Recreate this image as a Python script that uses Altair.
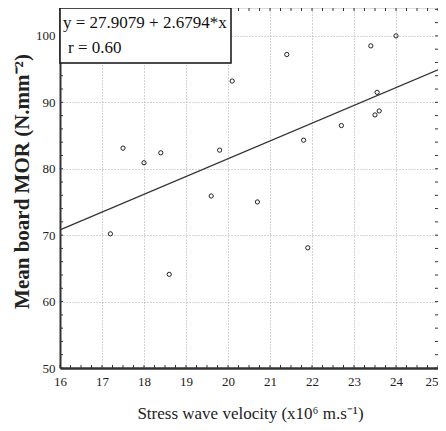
import altair as alt
import pandas as pd
import numpy as np

# Data
velocity = [17.2, 17.5, 18.0, 18.4, 18.6, 19.6, 19.8, 20.1, 20.7, 21.4,
            21.8, 21.9, 22.7, 23.4, 23.5, 23.55, 23.6, 24.0]
mor = [70.2, 83.1, 80.9, 82.4, 64.1, 75.9, 82.8, 93.2, 75.0, 97.2,
       84.3, 68.1, 86.5, 98.5, 88.1, 91.5, 88.7, 100.0]

fit_x = [16, 25]
fit_y = [70.8, 94.9]  # line y = 27.9079 + 2.6794*x as drawn

x_ticks = [16, 17, 18, 19, 20, 21, 22, 23, 24, 25]
y_ticks = [50, 60, 70, 80, 90, 100]
x_minor = list(np.arange(16, 25.001, 0.25))
y_minor = list(np.arange(50, 104.01, 2))

eq_line1 = "y = 27.9079 + 2.6794*x"
eq_line2 = "r = 0.60"
x_title = "Stress wave velocity (x10\u2076 m.s\u207b\u00b9)"
y_title = "Mean board MOR (N.mm\u207b\u00b2)"

W, H = 378, 360
FONT = "Liberation Serif"

pts = pd.DataFrame({"velocity": velocity, "mor": mor})
fit = pd.DataFrame({"velocity": fit_x, "mor": fit_y})
xm = pd.DataFrame({"velocity": x_minor})
ym = pd.DataFrame({"mor": y_minor})
one = pd.DataFrame({"a": [0]})

xscale = alt.Scale(domain=[16, 25], nice=False, zero=False)
yscale = alt.Scale(domain=[50, 104.2], nice=False, zero=False)

xaxis = alt.Axis(values=x_ticks, title=x_title, grid=True, ticks=False,
                 labelPadding=7, labelFontSize=13, labelFont=FONT, labelColor="#222",
                 labelAlign=alt.expr("datum.value == 25 ? 'right' : 'center'"),
                 titleFont=FONT, titleFontSize=17, titleFontWeight="normal",
                 titleColor="#222", titleX=W / 2 + 1, titleY=45, titleBaseline="middle",
                 domainColor="#333", domainWidth=2.5,
                 gridColor="#aaa", gridDash=[1, 2], gridWidth=1)
yaxis = alt.Axis(values=y_ticks, title=y_title, grid=True, ticks=False,
                 labelPadding=5, labelFontSize=13, labelFont=FONT, labelColor="#222",
                 titleFont=FONT, titleFontSize=21, titleFontWeight="bold",
                 titleColor="#222", titleX=-38, titleY=173, titleAngle=270,
                 titleBaseline="middle", titleAlign="center",
                 domainColor="#333", domainWidth=2,
                 gridColor="#aaa", gridDash=[1, 2], gridWidth=1)

X = alt.X("velocity:Q", scale=xscale, axis=xaxis)
Y = alt.Y("mor:Q", scale=yscale, axis=yaxis)

points = alt.Chart(pts).mark_point(shape="circle", filled=False, size=18,
                                   color="#222", strokeWidth=1, opacity=1).encode(x=X, y=Y)
line = alt.Chart(fit).mark_line(color="#333", strokeWidth=1.2).encode(x=X, y=Y)

tick_b = alt.Chart(xm).mark_rule(color="#333", strokeWidth=1).encode(
    x=X, y=alt.value(H - 3), y2=alt.value(H))
tick_t = alt.Chart(xm).mark_rule(color="#333", strokeWidth=1).encode(
    x=X, y=alt.value(0), y2=alt.value(3))
tick_l = alt.Chart(ym).mark_rule(color="#333", strokeWidth=1).encode(
    y=Y, x=alt.value(0), x2=alt.value(3))
tick_r = alt.Chart(ym).mark_rule(color="#333", strokeWidth=1).encode(
    y=Y, x=alt.value(W - 3), x2=alt.value(W))

box = alt.Chart(one).mark_rect(fill="white", stroke="#111", strokeWidth=1.5).encode(
    x=alt.value(0), x2=alt.value(171), y=alt.value(0), y2=alt.value(55))
t1 = alt.Chart(one).mark_text(text=eq_line1, font=FONT, fontSize=17, color="#111",
                              align="left", baseline="alphabetic").encode(
    x=alt.value(3), y=alt.value(20))
t2 = alt.Chart(one).mark_text(text=eq_line2, font=FONT, fontSize=17, color="#111",
                              align="left", baseline="alphabetic").encode(
    x=alt.value(8), y=alt.value(45))

chart = alt.layer(line, points, tick_b, tick_t, tick_l, tick_r, box, t1, t2).properties(
    width=W, height=H,
    autosize=alt.AutoSizeParams(type="none"),
    padding={"left": 52, "top": 0, "right": 0, "bottom": 55},
).configure_view(stroke="#444", strokeWidth=1.5).configure(font=FONT)

chart.save("out.html", embed_options={"renderer": "svg", "actions": False})
